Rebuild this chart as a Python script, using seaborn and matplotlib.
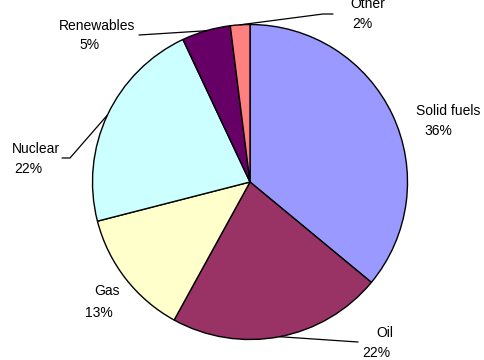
import numpy as np
import matplotlib
matplotlib.use("Agg")
import matplotlib.pyplot as plt
import seaborn as sns

# ---- data ----
categories = ["Solid fuels", "Oil", "Gas", "Nuclear", "Renewables", "Other"]
shares = [36, 22, 13, 22, 5, 2]
pct_labels = ["36%", "22%", "13%", "22%", "5%", "2%"]
colors = ["#9999FF", "#993366", "#FFFFCC", "#CCFFFF", "#660066", "#FF8080"]

# ---- layout (pixel coords, y down) ----
W, H = 484, 360
center_px = (250, 182)
radius_px = 157.5
name_pos = [(448, 115), (385, 337), (107, 295), (36, 153), (97, 30), (368, 8)]
pct_pos = [(438, 135), (376, 357), (99, 317), (28, 173), (89.5, 49), (362, 28)]
# leader line end points (None = no leader)
leader_end = [None, [(358, 342)], None, [(70, 158), (62, 158)],
              [(139, 35)], [(323, 14), (333, 14)]]

sns.set_theme(style="white")
plt.rcParams['font.family'] = ['Liberation Sans', 'DejaVu Sans']

fig = plt.figure(figsize=(W / 100, H / 100), dpi=100)
ax = fig.add_axes([0, 0, 1, 1])
ax.set_xlim(0, W)
ax.set_ylim(0, H)
ax.set_aspect("equal")
ax.axis("off")

cx, cy = center_px[0], H - center_px[1]
wedges, _ = ax.pie(shares, colors=colors, startangle=90, counterclock=False,
                   center=(cx, cy), radius=radius_px,
                   wedgeprops=dict(edgecolor="black", linewidth=1.0))
ax.set_xlim(0, W)
ax.set_ylim(0, H)

for i, w in enumerate(wedges):
    nx, ny = name_pos[i]
    px, py = pct_pos[i]
    ax.text(nx, H - ny, categories[i], ha="center", va="baseline",
            fontsize=10, color="black")
    ax.text(px, H - py, pct_labels[i], ha="center", va="baseline",
            fontsize=10, color="black")
    if leader_end[i] is not None:
        ang = np.deg2rad((w.theta1 + w.theta2) / 2)
        x0 = cx + radius_px * np.cos(ang)
        y0 = cy + radius_px * np.sin(ang)
        xs = [x0] + [p[0] for p in leader_end[i]]
        ys = [y0] + [H - p[1] for p in leader_end[i]]
        ax.plot(xs, ys, color="black", linewidth=0.9)

fig.savefig("out.png", dpi=100)
